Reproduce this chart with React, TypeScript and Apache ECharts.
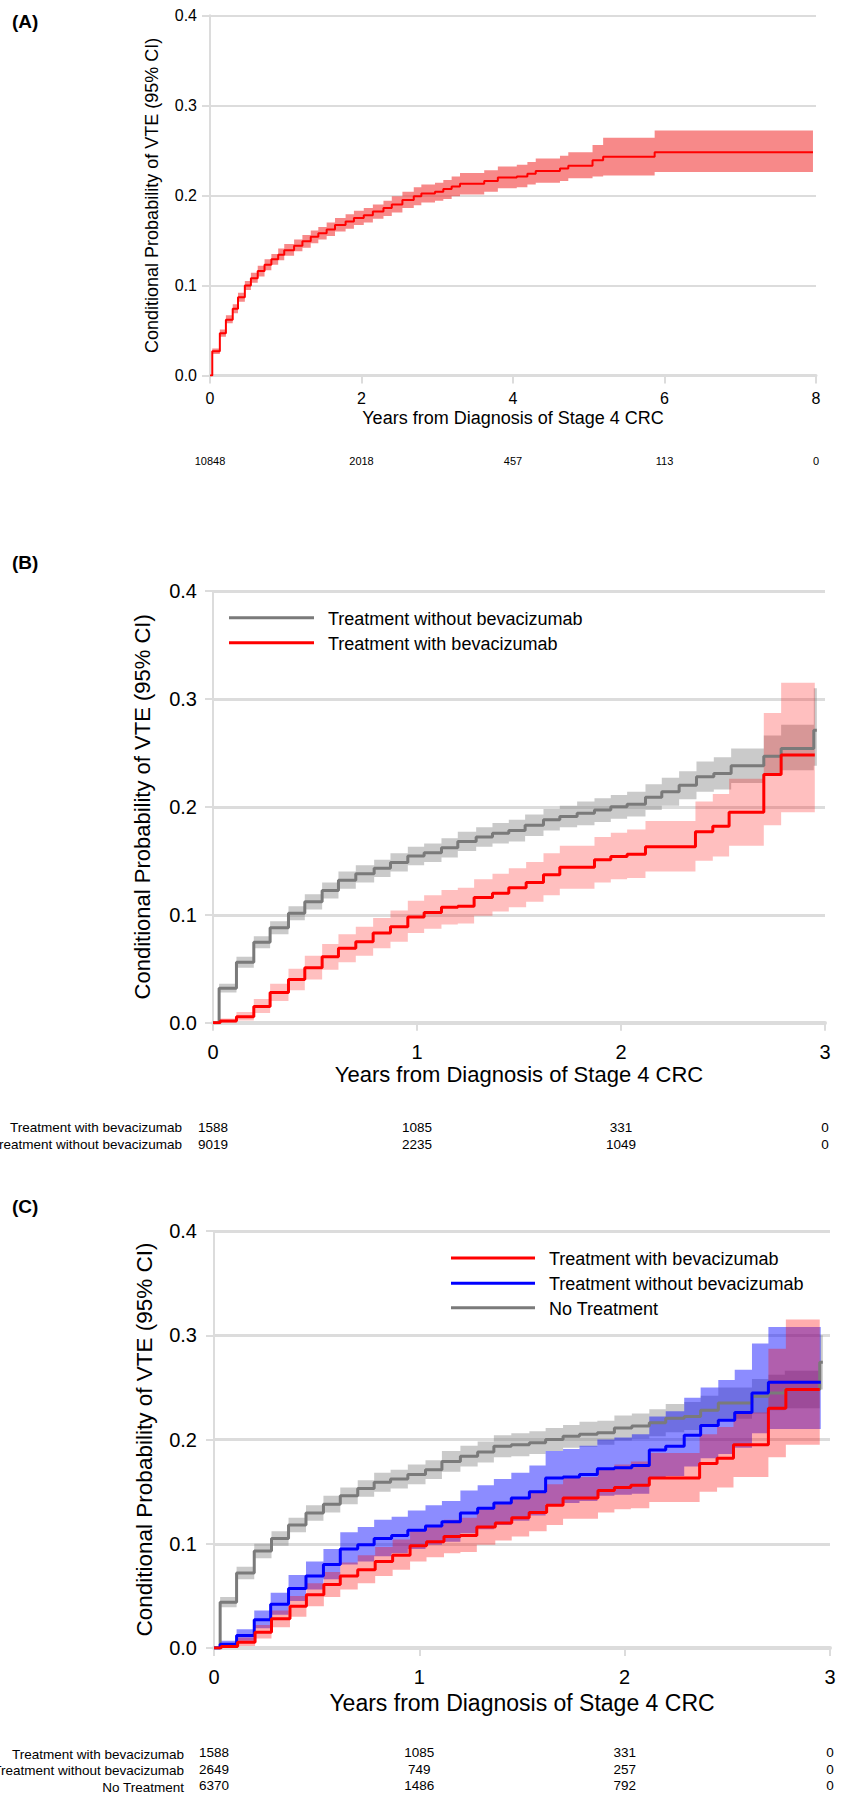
import React, { useEffect, useRef } from "react";
import * as echarts from "echarts";

const FONT = "'Liberation Sans', Arial, Helvetica, sans-serif";
const GRIDC = "#dcdcdc";
const X_TITLE = "Years from Diagnosis of Stage 4 CRC";
const Y_TITLE = "Conditional Probability of VTE (95% CI)";

// ---------- Panel A: all patients ----------
const aTime = [0, 0.03, 0.13, 0.21, 0.30, 0.37, 0.46, 0.54, 0.63, 0.72, 0.81, 0.90, 0.98, 1.11, 1.22, 1.33, 1.43, 1.54, 1.65, 1.79, 1.90, 2.03, 2.15, 2.29, 2.40, 2.54, 2.69, 2.79, 2.97, 3.08, 3.19, 3.30, 3.62, 3.80, 4.05, 4.19, 4.30, 4.62, 4.73, 5.05, 5.19, 5.87, 7.96];
const aEst = [0, 0.027, 0.047, 0.062, 0.074, 0.087, 0.100, 0.108, 0.116, 0.123, 0.129, 0.134, 0.139, 0.144, 0.149, 0.154, 0.158, 0.162, 0.167, 0.171, 0.175, 0.178, 0.182, 0.186, 0.190, 0.195, 0.199, 0.202, 0.204, 0.207, 0.210, 0.213, 0.216, 0.220, 0.221, 0.224, 0.227, 0.230, 0.233, 0.239, 0.243, 0.248, 0.248];
const aLow = [0, 0.024, 0.043, 0.058, 0.069, 0.082, 0.095, 0.103, 0.110, 0.117, 0.123, 0.128, 0.133, 0.138, 0.142, 0.147, 0.151, 0.155, 0.160, 0.163, 0.167, 0.170, 0.174, 0.177, 0.181, 0.186, 0.189, 0.192, 0.194, 0.196, 0.199, 0.201, 0.204, 0.208, 0.209, 0.212, 0.214, 0.216, 0.219, 0.221, 0.222, 0.226, 0.226];
const aHigh = [0, 0.030, 0.051, 0.067, 0.079, 0.092, 0.105, 0.114, 0.122, 0.129, 0.135, 0.141, 0.146, 0.151, 0.156, 0.161, 0.165, 0.170, 0.175, 0.179, 0.183, 0.186, 0.190, 0.194, 0.199, 0.204, 0.209, 0.212, 0.214, 0.217, 0.221, 0.225, 0.228, 0.232, 0.234, 0.237, 0.241, 0.244, 0.248, 0.256, 0.264, 0.272, 0.272];
const aRiskYears = [0, 2, 4, 6, 8];
const aRisk = [10848, 2018, 457, 113, 0];

// ---------- Treatment with bevacizumab (panels B and C) ----------
const bevTime = [0, 0.035, 0.115, 0.20, 0.28, 0.37, 0.45, 0.535, 0.615, 0.70, 0.785, 0.87, 0.955, 1.035, 1.12, 1.20, 1.28, 1.37, 1.45, 1.535, 1.62, 1.70, 1.87, 1.95, 2.03, 2.12, 2.365, 2.45, 2.53, 2.70, 2.785, 2.95];
const bevEst = [0, 0.0015, 0.0055, 0.015, 0.028, 0.040, 0.051, 0.061, 0.069, 0.075, 0.083, 0.089, 0.098, 0.102, 0.107, 0.108, 0.116, 0.120, 0.125, 0.130, 0.137, 0.144, 0.151, 0.154, 0.156, 0.163, 0.177, 0.182, 0.195, 0.230, 0.248, 0.248];
const bevLow = [0, 0.000, 0.002, 0.009, 0.020, 0.030, 0.040, 0.049, 0.056, 0.062, 0.069, 0.075, 0.083, 0.087, 0.091, 0.092, 0.099, 0.103, 0.107, 0.112, 0.118, 0.124, 0.130, 0.133, 0.134, 0.140, 0.150, 0.154, 0.164, 0.183, 0.195, 0.195];
const bevHigh = [0, 0.004, 0.010, 0.022, 0.036, 0.050, 0.062, 0.073, 0.082, 0.089, 0.097, 0.104, 0.113, 0.118, 0.123, 0.125, 0.133, 0.138, 0.143, 0.149, 0.157, 0.164, 0.172, 0.176, 0.179, 0.187, 0.205, 0.212, 0.226, 0.287, 0.315, 0.315];

// ---------- Treatment without bevacizumab (panel B, all) ----------
const woTime = [0, 0.03, 0.115, 0.20, 0.28, 0.37, 0.45, 0.535, 0.615, 0.70, 0.79, 0.87, 0.955, 1.035, 1.12, 1.20, 1.29, 1.37, 1.45, 1.53, 1.62, 1.70, 1.785, 1.87, 1.95, 2.03, 2.12, 2.20, 2.285, 2.37, 2.455, 2.54, 2.70, 2.785, 2.945, 2.96];
const woEst = [0, 0.032, 0.056, 0.0745, 0.088, 0.1015, 0.112, 0.1225, 0.132, 0.138, 0.143, 0.1485, 0.1545, 0.1575, 0.162, 0.168, 0.172, 0.1755, 0.178, 0.183, 0.188, 0.191, 0.194, 0.197, 0.200, 0.2025, 0.209, 0.214, 0.220, 0.228, 0.231, 0.238, 0.247, 0.254, 0.271, 0.271];
const woLow = [0, 0.028, 0.051, 0.069, 0.082, 0.095, 0.105, 0.115, 0.124, 0.130, 0.135, 0.140, 0.146, 0.149, 0.153, 0.159, 0.163, 0.166, 0.168, 0.173, 0.178, 0.181, 0.183, 0.186, 0.189, 0.191, 0.197, 0.201, 0.207, 0.214, 0.216, 0.222, 0.229, 0.234, 0.238, 0.238];
const woHigh = [0, 0.036, 0.061, 0.080, 0.094, 0.108, 0.119, 0.130, 0.140, 0.146, 0.151, 0.157, 0.163, 0.166, 0.171, 0.177, 0.181, 0.185, 0.188, 0.193, 0.198, 0.201, 0.205, 0.208, 0.211, 0.214, 0.221, 0.227, 0.233, 0.242, 0.246, 0.254, 0.266, 0.276, 0.310, 0.310];

// ---------- Panel C: Treatment without bevacizumab ----------
const bwTime = [0, 0.03, 0.11, 0.196, 0.276, 0.363, 0.448, 0.533, 0.615, 0.70, 0.78, 0.865, 0.944, 1.03, 1.11, 1.20, 1.284, 1.363, 1.448, 1.536, 1.615, 1.70, 1.78, 1.867, 1.95, 2.035, 2.12, 2.20, 2.29, 2.37, 2.456, 2.536, 2.62, 2.70, 2.955];
const bwEst = [0, 0.0035, 0.012, 0.027, 0.042, 0.057, 0.069, 0.080, 0.095, 0.099, 0.105, 0.108, 0.113, 0.117, 0.121, 0.1295, 0.134, 0.139, 0.144, 0.150, 0.163, 0.164, 0.1665, 0.172, 0.173, 0.175, 0.190, 0.1935, 0.204, 0.2135, 0.2185, 0.226, 0.2445, 0.255, 0.255];
const bwLow = [0, 0.001, 0.007, 0.019, 0.032, 0.045, 0.056, 0.066, 0.080, 0.083, 0.088, 0.091, 0.095, 0.099, 0.102, 0.110, 0.114, 0.118, 0.122, 0.127, 0.138, 0.139, 0.141, 0.146, 0.147, 0.148, 0.162, 0.165, 0.174, 0.182, 0.186, 0.192, 0.206, 0.210, 0.210];
const bwHigh = [0, 0.007, 0.018, 0.036, 0.053, 0.070, 0.083, 0.095, 0.111, 0.116, 0.123, 0.126, 0.132, 0.137, 0.141, 0.151, 0.156, 0.162, 0.168, 0.175, 0.189, 0.191, 0.194, 0.200, 0.202, 0.205, 0.222, 0.227, 0.240, 0.250, 0.257, 0.267, 0.292, 0.308, 0.308];

// ---------- Panel C: No Treatment ----------
const ntTime = [0, 0.03, 0.11, 0.196, 0.28, 0.363, 0.448, 0.533, 0.615, 0.70, 0.78, 0.86, 0.944, 1.03, 1.11, 1.20, 1.284, 1.363, 1.448, 1.536, 1.615, 1.70, 1.78, 1.867, 1.95, 2.035, 2.12, 2.20, 2.29, 2.37, 2.456, 2.62, 2.70, 2.78, 2.95, 2.965];
const ntEst = [0, 0.044, 0.072, 0.093, 0.105, 0.118, 0.1295, 0.138, 0.146, 0.153, 0.159, 0.162, 0.1665, 0.171, 0.179, 0.184, 0.188, 0.1935, 0.195, 0.197, 0.200, 0.203, 0.205, 0.2065, 0.211, 0.213, 0.216, 0.2205, 0.222, 0.228, 0.235, 0.2415, 0.2445, 0.248, 0.274, 0.274];
const ntLow = [0, 0.039, 0.066, 0.086, 0.098, 0.111, 0.122, 0.130, 0.138, 0.145, 0.150, 0.153, 0.157, 0.162, 0.169, 0.174, 0.178, 0.183, 0.184, 0.186, 0.189, 0.192, 0.193, 0.195, 0.199, 0.201, 0.203, 0.207, 0.209, 0.214, 0.220, 0.225, 0.228, 0.230, 0.248, 0.248];
const ntHigh = [0, 0.049, 0.078, 0.100, 0.112, 0.125, 0.137, 0.146, 0.154, 0.161, 0.168, 0.171, 0.176, 0.180, 0.189, 0.194, 0.198, 0.204, 0.206, 0.208, 0.211, 0.214, 0.217, 0.218, 0.223, 0.225, 0.229, 0.234, 0.236, 0.242, 0.250, 0.258, 0.262, 0.266, 0.300, 0.300];

// ---------- Numbers at risk ----------
const bcRiskYears = [0, 1, 2, 3];
const riskBev = [1588, 1085, 331, 0];
const riskWoAll = [9019, 2235, 1049, 0];
const riskWoC = [2649, 749, 257, 0];
const riskNone = [6370, 1486, 792, 0];

const RED = "#ff0000";
const GRAY = "#7a7a7a";
const BLUE = "#0000ff";

function pairs(t: number[], v: number[]) {
  return t.map((x, i) => [x, v[i]]);
}

function band(g: number, time: number[], lo: number[], hi: number[], fill: string, z: number) {
  return {
    type: "custom",
    xAxisIndex: g * 2,
    yAxisIndex: g,
    silent: true,
    clip: true,
    z,
    data: time.map((t, i) => [t, lo[i], hi[i]]),
    encode: { x: 0, y: [1, 2] },
    renderItem: (params: any, api: any) => {
      if (params.dataIndex !== 0) return null;
      const top: number[][] = [];
      const bot: number[][] = [];
      for (let i = 0; i < time.length - 1; i++) {
        top.push(api.coord([time[i], hi[i]]), api.coord([time[i + 1], hi[i]]));
        bot.push(api.coord([time[i], lo[i]]), api.coord([time[i + 1], lo[i]]));
      }
      return {
        type: "polygon",
        shape: { points: top.concat(bot.reverse()) },
        style: { fill },
      };
    },
  };
}

function stepLine(g: number, name: string, time: number[], est: number[], color: string, width: number, z: number) {
  return {
    type: "line",
    name,
    xAxisIndex: g * 2,
    yAxisIndex: g,
    step: "end",
    showSymbol: false,
    symbol: "none",
    z,
    lineStyle: { color, width },
    data: pairs(time, est),
  };
}

interface PanelCfg {
  xmax: number;
  xint: number;
  tickFs: number;
  xMargin: number;
  yMargin: number;
  axW: number;
  gridW: number;
  xNameFs: number;
  xNameGap: number;
  yNameFs: number;
  yNameGap: number;
  riskRows: number[][];
  riskFs: number;
  riskLh: number;
  riskOffset: number;
}

function axesFor(g: number, c: PanelCfg) {
  const xMain = {
    type: "value",
    gridIndex: g,
    min: 0,
    max: c.xmax,
    interval: c.xint,
    axisLine: { show: true, onZero: false, lineStyle: { color: GRIDC, width: c.axW } },
    axisTick: { show: true, length: 8, lineStyle: { color: GRIDC, width: 2 } },
    splitLine: { show: false },
    axisLabel: { fontSize: c.tickFs, color: "#000", margin: c.xMargin, fontFamily: FONT },
    name: X_TITLE,
    nameLocation: "middle",
    nameGap: c.xNameGap,
    nameTextStyle: { fontSize: c.xNameFs, color: "#000", fontFamily: FONT },
  };
  const xRisk = {
    type: "value",
    gridIndex: g,
    position: "bottom",
    offset: c.riskOffset,
    min: 0,
    max: c.xmax,
    interval: c.xint,
    axisLine: { show: false },
    axisTick: { show: false },
    splitLine: { show: false },
    axisLabel: {
      fontSize: c.riskFs,
      lineHeight: c.riskLh,
      color: "#000",
      margin: 8,
      fontFamily: FONT,
      formatter: (v: number) => {
        const i = Math.round(v / c.xint);
        return c.riskRows.map((r) => String(r[i])).join("\n");
      },
    },
  };
  const y = {
    type: "value",
    gridIndex: g,
    min: 0,
    max: 0.4,
    interval: 0.1,
    axisLine: { show: true, lineStyle: { color: GRIDC, width: 2 } },
    axisTick: { show: true, length: 8, lineStyle: { color: GRIDC, width: 2 } },
    splitLine: { show: true, lineStyle: { color: GRIDC, width: c.gridW } },
    axisLabel: {
      fontSize: c.tickFs,
      color: "#000",
      margin: c.yMargin,
      fontFamily: FONT,
      formatter: (v: number) => v.toFixed(1),
    },
    name: Y_TITLE,
    nameLocation: "middle",
    nameGap: c.yNameGap,
    nameTextStyle: { fontSize: c.yNameFs, color: "#000", fontFamily: FONT },
  };
  return { x: [xMain, xRisk], y };
}

const cfgA: PanelCfg = {
  xmax: 8, xint: 2, tickFs: 16, xMargin: 15, yMargin: 13, axW: 3, gridW: 2,
  xNameFs: 18, xNameGap: 33, yNameFs: 18, yNameGap: 49,
  riskRows: [aRisk], riskFs: 11, riskLh: 12, riskOffset: 71,
};
const cfgB: PanelCfg = {
  xmax: 3, xint: 1, tickFs: 20, xMargin: 19, yMargin: 16, axW: 4, gridW: 3,
  xNameFs: 22, xNameGap: 41, yNameFs: 22, yNameGap: 60,
  riskRows: [riskBev, riskWoAll], riskFs: 13.5, riskLh: 17, riskOffset: 88,
};
const cfgC: PanelCfg = {
  xmax: 3, xint: 1, tickFs: 20, xMargin: 19, yMargin: 17, axW: 4, gridW: 3,
  xNameFs: 23, xNameGap: 43, yNameFs: 22.5, yNameGap: 58,
  riskRows: [riskBev, riskWoC, riskNone], riskFs: 13.5, riskLh: 16.5, riskOffset: 88.5,
};

function txt(x: number, y: number, text: string, fontSize: number, align = "left", weight = "normal") {
  return {
    type: "text",
    x,
    y,
    style: {
      text,
      fill: "#000",
      font: `${weight} ${fontSize}px ${FONT}`,
      align,
      verticalAlign: "middle",
    },
  };
}

function legendLine(x1: number, x2: number, y: number, color: string) {
  return {
    type: "line",
    shape: { x1, y1: y, x2, y2: y },
    style: { stroke: color, lineWidth: 3 },
  };
}

export default function App() {
  const ref = useRef<HTMLDivElement>(null);

  useEffect(() => {
    if (!ref.current) return;
    document.body.style.margin = "0";
    const chart = echarts.init(ref.current, undefined, { renderer: "svg" });
    const A = axesFor(0, cfgA);
    const B = axesFor(1, cfgB);
    const C = axesFor(2, cfgC);

    const option: any = {
      animation: false,
      backgroundColor: "#ffffff",
      grid: [
        { left: 210, top: 15.3, width: 606, height: 360.2 },
        { left: 213, top: 591, width: 612, height: 431.7 },
        { left: 214, top: 1231, width: 616, height: 418.3 },
      ],
      xAxis: [...A.x, ...B.x, ...C.x],
      yAxis: [A.y, B.y, C.y],
      series: [
        // Panel A
        band(0, aTime, aLow, aHigh, "rgba(240,40,40,0.55)", 2),
        stepLine(0, "All patients", aTime, aEst, RED, 2, 5),
        // Panel B
        band(1, woTime, woLow, woHigh, "rgba(128,128,128,0.42)", 2),
        band(1, bevTime, bevLow, bevHigh, "rgba(255,0,0,0.25)", 3),
        stepLine(1, "Treatment without bevacizumab", woTime, woEst, GRAY, 3, 5),
        stepLine(1, "Treatment with bevacizumab", bevTime, bevEst, RED, 3, 6),
        // Panel C
        band(2, ntTime, ntLow, ntHigh, "rgba(128,128,128,0.42)", 2),
        band(2, bwTime, bwLow, bwHigh, "rgba(0,0,255,0.45)", 3),
        band(2, bevTime, bevLow, bevHigh, "rgba(255,0,0,0.32)", 4),
        stepLine(2, "No Treatment", ntTime, ntEst, GRAY, 3, 5),
        stepLine(2, "Treatment without bevacizumab", bwTime, bwEst, BLUE, 3, 6),
        stepLine(2, "Treatment with bevacizumab", bevTime, bevEst, RED, 3, 7),
      ],
      graphic: [
        txt(12, 21, "(A)", 19, "left", "bold"),
        txt(12, 562.5, "(B)", 19, "left", "bold"),
        txt(12, 1206, "(C)", 19, "left", "bold"),
        // Legend B
        legendLine(229, 314, 617.7, GRAY),
        txt(328, 618.5, "Treatment without bevacizumab", 18),
        legendLine(229, 314, 642.7, RED),
        txt(328, 643.5, "Treatment with bevacizumab", 18),
        // Legend C
        legendLine(451, 535, 1258, RED),
        txt(549, 1258.8, "Treatment with bevacizumab", 18),
        legendLine(451, 535, 1283.3, BLUE),
        txt(549, 1284, "Treatment without bevacizumab", 18),
        legendLine(451, 535, 1307.7, GRAY),
        txt(549, 1308.5, "No Treatment", 18),
        // Risk table row labels
        txt(182, 1127, "Treatment with bevacizumab", 13.5, "right"),
        txt(182, 1144, "Treatment without bevacizumab", 13.5, "right"),
        txt(184, 1754, "Treatment with bevacizumab", 13.5, "right"),
        txt(184, 1770.5, "Treatment without bevacizumab", 13.5, "right"),
        txt(184, 1787, "No Treatment", 13.5, "right"),
      ],
    };
    chart.setOption(option);
    return () => chart.dispose();
  }, []);

  return (
    <div
      ref={ref}
      style={{ position: "absolute", left: 0, top: 0, width: 851, height: 1794, background: "#fff" }}
    />
  );
}
